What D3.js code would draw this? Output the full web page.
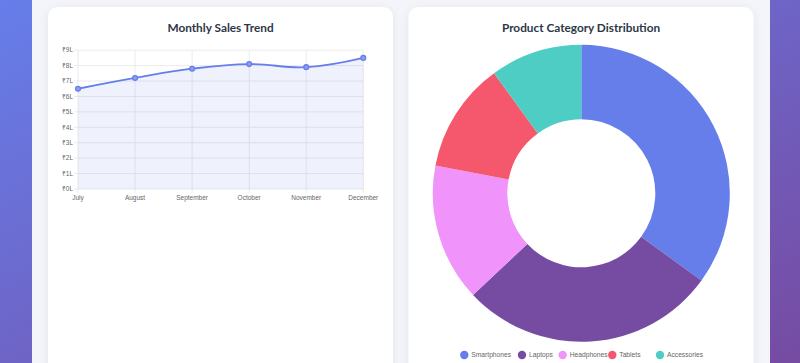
<!DOCTYPE html>
<html><head><meta charset="utf-8">
<script src="https://cdn.jsdelivr.net/npm/d3@7/dist/d3.min.js"></script>
<style>
html,body{margin:0;padding:0;width:800px;height:363px;overflow:hidden;}
</style></head>
<body>
<svg id="c" width="800" height="363"></svg>
<script>
const months = ["July","August","September","October","November","December"];
const sales = [650000, 720000, 780000, 810000, 790000, 850000];
const yTicks = [0,100000,200000,300000,400000,500000,600000,700000,800000,900000];
const categories = ["Smartphones","Laptops","Headphones","Tablets","Accessories"];
const shares = [35, 28, 15, 12, 10];
const colors = ["#667eea","#764ba2","#f093fb","#f5576c","#4ecdc4"];

const svg = d3.select("#c");
const defs = svg.append("defs");
const bg = defs.append("linearGradient").attr("id","bg").attr("x1","0").attr("y1","0").attr("x2","1").attr("y2","1");
bg.append("stop").attr("offset","0%").attr("stop-color","#667eea");
bg.append("stop").attr("offset","100%").attr("stop-color","#764ba2");
const sh = defs.append("filter").attr("id","sh").attr("x","-10%").attr("y","-10%").attr("width","120%").attr("height","120%");
sh.append("feDropShadow").attr("dx",0).attr("dy",2).attr("stdDeviation",5).attr("flood-color","#000").attr("flood-opacity",0.07);

svg.append("rect").attr("width",800).attr("height",363).attr("fill","url(#bg)");
svg.append("rect").attr("x",32).attr("y",-20).attr("width",738).attr("height",400).attr("fill","#f4f5fa");

function card(x){
  svg.append("rect").attr("x",x).attr("y",7).attr("width",345).attr("height",420).attr("rx",10)
    .attr("fill","#fff").attr("filter","url(#sh)");
}
card(48); card(408.5);

const titleFont = "Lato, 'Open Sans', sans-serif";
svg.append("text").attr("x",220.5).attr("y",31.5).attr("text-anchor","middle")
  .attr("font-family",titleFont).attr("font-weight",700).attr("font-size",11.8).attr("fill","#2d3748")
  .text("Monthly Sales Trend");
svg.append("text").attr("x",581).attr("y",31.5).attr("text-anchor","middle")
  .attr("font-family",titleFont).attr("font-weight",700).attr("font-size",11.8).attr("fill","#2d3748")
  .text("Product Category Distribution");

// Line chart
const x = d3.scalePoint().domain(months).range([78, 363.3]);
const y = d3.scaleLinear().domain([0, 900000]).range([189, 50.2]);
const g = svg.append("g");
const tickFont = "'Liberation Sans', Arial, sans-serif";

g.selectAll("line.h").data(yTicks).join("line").attr("class","h")
  .attr("x1",74).attr("x2",363.3).attr("y1",d=>y(d)).attr("y2",d=>y(d))
  .attr("stroke","#e6e6e6").attr("stroke-width",0.8);
g.selectAll("line.v").data(months).join("line").attr("class","v")
  .attr("x1",d=>x(d)).attr("x2",d=>x(d)).attr("y1",50.2).attr("y2",193)
  .attr("stroke","#e6e6e6").attr("stroke-width",0.8);

g.selectAll("text.yt").data(yTicks).join("text").attr("class","yt")
  .attr("x",73).attr("y",d=>y(d)).attr("dy","0.35em").attr("text-anchor","end")
  .attr("font-family",tickFont).attr("font-size",6.5).attr("fill","#666")
  .text(d=>"₹"+(d/100000)+"L");
g.selectAll("text.xt").data(months).join("text").attr("class","xt")
  .attr("x",d=>x(d)).attr("y",198).attr("dy","0.35em").attr("text-anchor","middle")
  .attr("font-family",tickFont).attr("font-size",6.5).attr("fill","#666")
  .text(d=>d);

const curve = d3.curveCardinal.tension(-0.2);
const pts = months.map((m,i)=>[x(m), y(sales[i])]);
g.append("path").datum(pts)
  .attr("d", d3.area().x(d=>d[0]).y0(y(0)).y1(d=>d[1]).curve(curve))
  .attr("fill","rgba(102,126,234,0.1)");
g.append("path").datum(pts)
  .attr("d", d3.line().x(d=>d[0]).y(d=>d[1]).curve(curve))
  .attr("fill","none").attr("stroke","#667eea").attr("stroke-width",1.8);
g.selectAll("circle.p").data(pts).join("circle").attr("class","p")
  .attr("cx",d=>d[0]).attr("cy",d=>d[1]).attr("r",2.4)
  .attr("fill","#8c9ef0").attr("stroke","#667eea").attr("stroke-width",1.3);

// Donut
const cx = 581.3, cy = 193.3, R = 148.5, r = 74;
const pie = d3.pie().sort(null).value(d=>d);
const arc = d3.arc().innerRadius(r).outerRadius(R);
const dg = svg.append("g").attr("transform",`translate(${cx},${cy})`);
dg.selectAll("path").data(pie(shares)).join("path")
  .attr("d",arc).attr("fill",(d,i)=>colors[i]);

// Legend
const legX = [464.3, 522, 562.7, 612.3, 660];
const lg = svg.append("g");
categories.forEach((c,i)=>{
  lg.append("circle").attr("cx",legX[i]).attr("cy",355).attr("r",4.2).attr("fill",colors[i]);
  lg.append("text").attr("x",legX[i]+7).attr("y",355).attr("dy","0.35em")
    .attr("font-family",tickFont).attr("font-size",6.7).attr("fill","#666").text(c);
});
</script>
</body></html>
